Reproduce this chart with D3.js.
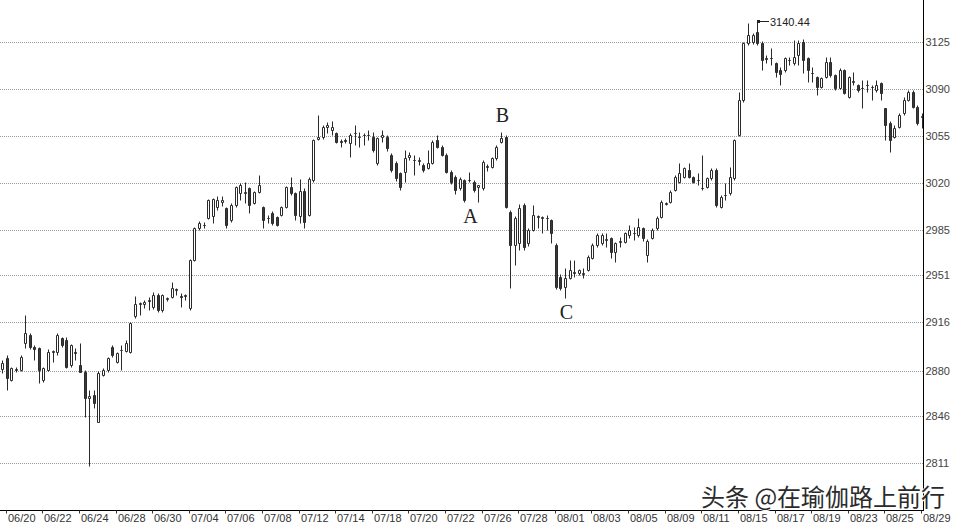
<!DOCTYPE html>
<html><head><meta charset="utf-8">
<script src="https://cdn.jsdelivr.net/npm/d3@7/dist/d3.min.js"></script>
<style>body{margin:0;background:#fff;} svg{display:block;}</style>
</head><body>
<svg id="chart" width="966" height="526"></svg>
<script>
const yTicks = [2811, 2846, 2880, 2916, 2951, 2985, 3020, 3055, 3090, 3125];
const tickLabels = ["06/20","06/22","06/24","06/28","06/30","07/04","07/06","07/08","07/12","07/14","07/18","07/20","07/22","07/26","07/28","08/01","08/03","08/05","08/09","08/11","08/15","08/17","08/19","08/23","08/25","08/29"];
const days = ["06/20","06/21","06/22","06/23","06/24","06/27","06/28","06/29","06/30","07/01",
"07/04","07/05","07/06","07/07","07/08","07/11","07/12","07/13","07/14","07/15",
"07/18","07/19","07/20","07/21","07/22","07/25","07/26","07/27","07/28","07/29",
"08/01","08/02","08/03","08/04","08/05","08/08","08/09","08/10","08/11","08/12",
"08/15","08/16","08/17","08/18","08/19","08/22","08/23","08/24","08/25","08/26"];
const hours = ["10:30","11:30","14:00","15:00"];
const firstBar = "06/17 15:00";
const lastBar = "08/29 10:30";

const open = [
2881,2889.3,2873.1,2880.6,2880.6,2900.5,2906.7,2897.7,2896.7,2873.1,
2880.6,2893.7,2894.2,2904.2,2903,2884.3,2894,2884.3,2879.3,2859.5,
2862,2842,2877,2880.6,2898,2886.8,2895.5,2895,2894.2,2920.5,
2929.5,2930,2932,2927.7,2936.4,2925.3,2933.6,2935.2,2940,2936,
2936,2926.5,2962.5,2986.1,2988.5,2993.6,2995,3002.3,3006,3001,
2992.3,3003.5,3012.2,3012.7,3015.9,3004.7,3013.5,3002.3,2993.8,2997.3,
2994.8,2996,3002.3,3017.2,3012.2,2995.5,3014,2996,3022.1,3053,
3054.4,3062,3059.5,3056.9,3051,3052,3049.5,3056.9,3054.4,3055.7,
3055.4,3054.4,3034.6,3054,3054.4,3040.8,3034.6,3027.1,3028.4,3039.5,
3036.8,3036.5,3033.3,3030.8,3034.6,3052,3047,3040.8,3028.4,3024.6,
3016,3022.1,3022,3020.9,3017,3016,3031.5,3032.1,3038.3,3050.7,
3054.4,2998.6,2973.7,2975,3003.5,2975,2984.9,2994.8,2993.5,2993.5,
2992.3,2973.7,2950.1,2942.7,2948.9,2953,2952.6,2952,2955.1,2963.8,
2973.7,2975,2977.4,2978.7,2968.8,2976,2976.2,2981.2,2982.4,2981.2,
2986.1,2966,2978.7,2986.1,2994.8,3004.5,3006,3014.7,3020.9,3024.6,
3029.6,3024.6,3022.2,3016,3017.2,3023.4,3029.6,3002.3,3011,3012.2,
3023.4,3055.7,3081.8,3124,3125,3132.7,3124,3112.8,3112.8,3109,
3104,3104.1,3111.5,3109.1,3115.3,3125.2,3112.8,3101.6,3099.2,3091.7,
3099.2,3110.4,3100.4,3090.5,3104.1,3084.3,3095.4,3093,3090.5,3093,
3091.7,3089.2,3094.2,3075.6,3064.4,3054.5,3061.9,3071.8,3081.8,3088,
3076.8,3069.4];
const high = [
2888,2891.8,2883,2883,2891.8,2921.6,2908,2899,2898,2883,
2896,2895.5,2908,2905,2905,2900,2897,2900.5,2880.6,2865.7,
2865.7,2880,2882,2890.5,2899,2894,2899.2,2903,2916,2935.5,
2931.5,2932.7,2935,2938.9,2938,2937.5,2935.2,2946.4,2941.4,2937.7,
2937.4,2963,2987,2991.5,2991,3008,3009,3010,3010.5,3002,
3005,3018,3019.7,3020.9,3017,3014,3025.9,3003,2996,2999,
2995.5,3003,3018,3024.6,3013,3023,3016,3024.6,3053,3070.6,
3063,3065.6,3066,3058.2,3053,3053.7,3056.9,3063.1,3058.2,3057,
3059.4,3058.2,3054,3059.4,3056,3042,3036,3028,3044.5,3043,
3040.8,3039,3035,3044.5,3052,3055.7,3048,3042,3029.6,3026,
3024.6,3023,3028.4,3022,3018.4,3037,3034,3039.5,3048,3058.2,
3056,3000,2995,3004,3004.8,2986,3003.5,2996,2995,2996,
2993,2975,2952,2956.3,2962.5,2962.5,2956,2956.3,2966,2975,
2982.4,2982.4,2982.4,2980,2976,2980,2983.5,2988.6,2987.4,2993.6,
2987,2978.5,2986,2995,3007,3006,3015,3026,3034.6,3032,
3034.6,3025.5,3027.1,3040.8,3024.5,3030.8,3030.8,3010.8,3019.7,3032,
3053,3088,3125,3138.9,3132,3140.44,3126,3115,3120.3,3110,
3106,3114,3114,3126.5,3126.5,3127,3114,3106.6,3100,3099,
3114,3114,3101,3105.4,3105,3100,3102.9,3094,3096.7,3096.7,
3093,3096.7,3095.4,3076,3066,3063.2,3072,3084.3,3089.2,3089,
3078,3071.8];
const low = [
2878,2865.7,2872.6,2879,2880,2896.7,2896,2888,2870.7,2871.9,
2880,2886.8,2891.8,2898,2882,2883,2888,2879,2845.8,2809,
2852,2842,2876,2879,2890.5,2886,2880.6,2894,2893,2919,
2921.5,2926.5,2925,2926,2924,2924,2932,2934,2936.5,2927.7,
2932.7,2925.3,2962,2985,2986,2993,2989.8,3000,3003,2986,
2991,3002,3007.2,3004.7,2997.3,3004,3012.2,2986.1,2989.8,2988.6,
2988,2995,3001,3011,2992,2990,2986,2995,3021,3052,
3053,3057,3056,3049.5,3047,3050,3039.5,3048.2,3047,3048.2,
3052,3043,3033,3050.7,3044,3028,3021.5,3015,3020.9,3037,
3025.9,3033,3028,3030,3034,3045.7,3040,3027,3019,3012,
3015,3006,3021,3013,3006,3015,3029,3031,3037,3049.5,
3001,2941.4,2958.8,2970,2970,2973,2984,2986,2982.4,2985,
2975,2941,2940,2934,2948,2950.1,2951,2948.9,2954,2963,
2972,2974,2972.5,2963.8,2961.3,2972.5,2975,2978.7,2977.4,2980,
2977,2961,2978,2985,2993.6,3003.5,3005,3014,3020,3024,
3023.5,3020,3018.4,3014.7,3016,3022,3002,3001,3007.2,3011,
3022,3055,3080,3123,3123.5,3123,3104,3109,3107.9,3099.2,
3093,3103,3107.9,3108,3107.9,3101.6,3095.4,3095.4,3085.5,3091,
3098,3099,3089.2,3090,3086,3083,3093,3088,3075.6,3088,
3081.8,3088,3081.8,3052,3043.3,3053.2,3061,3070.6,3081,3076,
3063,3060.7];
const close = [
2885.6,2874.4,2881.8,2881,2890.5,2907.9,2898,2896.2,2880.6,2881.8,
2894.2,2894.5,2906.7,2899.2,2883,2899.2,2893,2879.3,2859.5,2861.2,
2855.7,2878,2880.6,2889.3,2891.8,2893,2895.8,2901,2915.4,2929.5,
2930.8,2931.5,2933,2936.4,2925.3,2936.4,2934.5,2941.4,2941,2935,
2936.8,2962.5,2986.1,2989.8,2988.7,3007.2,3007.7,3007.2,3007,2988.6,
3003.5,3017.2,3018.4,3013.5,3003.5,3013.5,3018.4,2992.3,2993.5,2990,
2988.6,3002.3,3017.2,3012.2,2996,3014,2991,3022.6,3052,3054,
3061.9,3063,3062,3050.7,3050.7,3051.5,3055.7,3057.2,3054.2,3055.5,
3056,3044.5,3053.2,3055.7,3045.7,3029.6,3023.4,3017.2,3038.3,3040.5,
3037.4,3037,3029.6,3034.6,3050.7,3047,3040.8,3028.4,3020.9,3014.7,
3023,3007.2,3022.3,3014.7,3018.2,3035.8,3032.5,3038.3,3047,3053.2,
3002.3,2973.7,2993.6,3001,2972.5,2984.9,2996,2995.5,2994.2,2994,
2982.4,2942.7,2941.4,2948.9,2955.1,2953.5,2955,2952.5,2965,2973.7,
2981.2,2981.2,2978,2968.8,2975,2976.5,2982.4,2984.9,2982.6,2987.4,
2978.7,2977,2984.9,2993.6,3006,3005,3013.5,3024.6,3027.1,3030.8,
3024.6,3020.9,3022.1,3016.5,3023.4,3029.6,3003.5,3009.7,3011.2,3024.6,
3052,3081.8,3124,3130.2,3130,3124,3111.6,3112.5,3113,3102.9,
3101,3112.8,3111.8,3114,3124,3111.6,3104.1,3101.8,3091.7,3097.9,
3110.4,3100.4,3090.5,3104.1,3086.7,3099.2,3096,3089.2,3090.4,3092.7,
3091.5,3093,3086.7,3063.2,3052,3060.7,3070.6,3081.8,3088,3076.8,
3064.4,3070];

const maxLabel = "3140.44";
const waveLabels = [{t:"A", i:102, pos:"below"}, {t:"B", i:109, pos:"above"}, {t:"C", i:123, pos:"below"}];
const watermark = "头条 @在瑜伽路上前行";

const categories = [firstBar].concat(days.flatMap(d => hours.map(h => d + " " + h)), [lastBar]);
const data = categories.map((c, i) => ({c, o: open[i], h: high[i], l: low[i], cl: close[i]}));

const W = 966, H = 526;
const svg = d3.select("#chart");
svg.append("rect").attr("width", W).attr("height", H).attr("fill", "#fff");

const x = d3.scaleBand().domain(categories).range([0, 924.2]);
const y = d3.scaleLinear().domain([2811, 3125]).range([463.3, 42]);
const cxOf = c => Math.round(x(c) + x.bandwidth() / 2);
const py = v => Math.round(y(v)) + 0.5;

// grid
svg.append("g").selectAll("line").data(yTicks).join("line")
  .attr("x1", 0).attr("x2", 923)
  .attr("y1", d => py(d)).attr("y2", d => py(d))
  .attr("stroke", "#9a9a9a").attr("stroke-dasharray", "1,1");

// candles
const g = svg.append("g");
g.selectAll("line.wick").data(data).join("line").attr("class", "wick")
  .attr("x1", d => cxOf(d.c) + 0.5).attr("x2", d => cxOf(d.c) + 0.5)
  .attr("y1", d => py(d.h)).attr("y2", d => py(d.l))
  .attr("stroke", "#2a2a2a").attr("stroke-width", 1);
g.selectAll("path.body").data(data).join("path").attr("class", "body")
  .attr("d", d => {
    const cx = cxOf(d.c);
    const x0 = cx - 0.5, x1 = cx + 1.5;
    const yt = py(Math.max(d.o, d.cl)), yb = py(Math.min(d.o, d.cl));
    return `M${x0},${yt}H${x1}V${yb}H${x0}Z`;
  })
  .attr("fill", d => d.cl >= d.o ? "#fff" : "#3a3a3a")
  .attr("stroke", "#2a2a2a").attr("stroke-width", 1);

// right axis
svg.append("line").attr("x1", 923.5).attr("x2", 923.5).attr("y1", 0).attr("y2", 511)
  .attr("stroke", "#000");
const ay = svg.append("g").attr("transform", "translate(923.5,0)")
  .call(d3.axisRight(y).tickValues(yTicks).tickSize(0).tickPadding(2).tickFormat(d3.format("d")));
ay.select(".domain").remove();
ay.selectAll("text").attr("font-family", "Liberation Sans, Arial, sans-serif")
  .attr("font-size", 11).attr("fill", "#444");

// bottom axis
svg.append("line").attr("x1", 0).attr("x2", 923.5).attr("y1", 510.5).attr("y2", 510.5)
  .attr("stroke", "#000");
const tickCats = tickLabels.map(l => l + " 10:30");
const ax = svg.append("g").attr("transform", "translate(0,510.5)")
  .call(d3.axisBottom(x).tickValues(tickCats).tickSize(3).tickFormat(d => d.slice(0, 5)));
ax.select(".domain").remove();
ax.selectAll(".tick").attr("transform", d => `translate(${cxOf(d) - 0.5},0)`);
ax.selectAll(".tick line").attr("stroke", "#333");
ax.selectAll("text").attr("x", 1.5).attr("y", 11.5).attr("dy", 0)
  .attr("text-anchor", "start")
  .attr("font-family", "Liberation Sans, Arial, sans-serif")
  .attr("font-size", 11).attr("fill", "#333");

// max annotation
const maxIdx = d3.maxIndex(high);
const mx = cxOf(categories[maxIdx]), my = py(high[maxIdx]);
svg.append("rect").attr("x", mx).attr("y", my - 1.5).attr("width", 3).attr("height", 3).attr("fill", "#222");
svg.append("line").attr("x1", mx + 2).attr("x2", mx + 12).attr("y1", my).attr("y2", my)
  .attr("stroke", "#222");
svg.append("text").attr("x", mx + 13).attr("y", my + 4)
  .attr("font-family", "Liberation Sans, Arial, sans-serif").attr("font-size", 11)
  .attr("fill", "#222").text(maxLabel);

// wave labels, placed at the extreme of the nearby candles
const nearLow = i => d3.min(low.slice(i - 2, i + 3));
const nearHigh = i => d3.max(high.slice(i - 2, i + 3));
svg.append("g").selectAll("text").data(waveLabels).join("text")
  .attr("x", d => cxOf(categories[d.i]) + 1.5)
  .attr("y", d => d.pos === "above" ? py(nearHigh(d.i)) - 11 : py(nearLow(d.i)) + 20.5)
  .attr("text-anchor", "middle")
  .attr("font-family", "Liberation Serif, Times New Roman, serif")
  .attr("font-size", 20).attr("fill", "#222")
  .text(d => d.t);

// watermark
svg.append("text").attr("x", 701).attr("y", 506)
  .attr("font-family", "Noto Sans CJK SC, sans-serif").attr("font-size", 24)
  .attr("fill", "#2b2b2b").attr("stroke", "#fff").attr("stroke-width", 2)
  .attr("paint-order", "stroke").text(watermark);
</script>
</body></html>
